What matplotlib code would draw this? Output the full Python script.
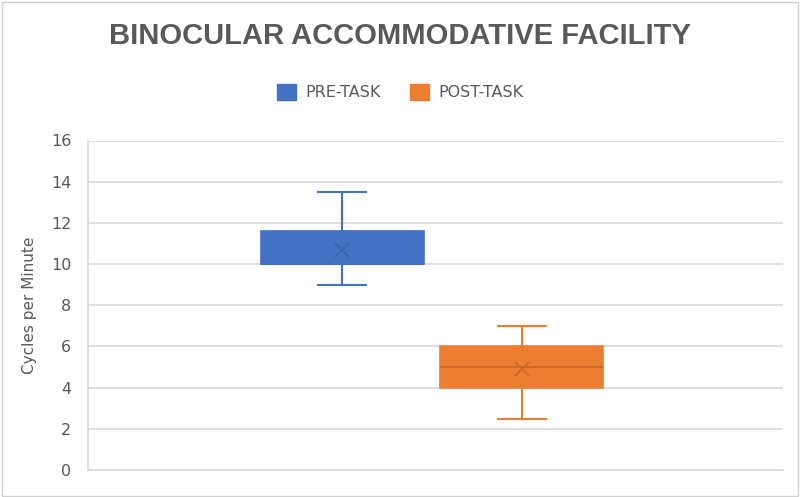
import matplotlib.pyplot as plt
from matplotlib.patches import Rectangle, Patch

# box statistics
groups = ['PRE-TASK', 'POST-TASK']
whisker_low = [9.0, 2.5]
q1 = [10.0, 4.0]
median = [10.0, 5.0]
q3 = [11.6, 6.0]
whisker_high = [13.5, 7.0]
mean = [10.7, 4.9]
colors = ['#4472C4', '#ED7D31']
yticks = [0, 2, 4, 6, 8, 10, 12, 14, 16]

W, H = 800, 497
fig = plt.figure(figsize=(8, 4.97), dpi=100)
fig.patches.append(Rectangle((0.003, 0.003), 0.994, 0.993, transform=fig.transFigure,
                             fill=False, edgecolor='#d0d0d0', linewidth=1))

ax = fig.add_axes([88 / W, 1 - 470 / H, (783 - 88) / W, (470 - 140.5) / H])

positions = [0.366, 0.624]
stats = []
for i, g in enumerate(groups):
    stats.append(dict(label=g, whislo=whisker_low[i], q1=q1[i], med=median[i],
                      q3=q3[i], whishi=whisker_high[i], mean=mean[i], fliers=[]))

for i, s in enumerate(stats):
    c = colors[i]
    dark = '#3a62ad' if i == 0 else '#c9692a'
    # blue median sits on the lower box edge, so it is not seen
    med_col = c if i == 0 else dark
    ax.bxp([s], positions=[positions[i]], widths=0.234, capwidths=0.069,
           patch_artist=True, showmeans=True, manage_ticks=False,
           boxprops=dict(facecolor=c, edgecolor=c, linewidth=1.2),
           medianprops=dict(color=med_col, linewidth=1.5),
           whiskerprops=dict(color=c, linewidth=1.5),
           capprops=dict(color=c, linewidth=1.5),
           meanprops=dict(marker='x', markeredgecolor=dark, markersize=10,
                          markeredgewidth=1.2))

ax.set_xlim(0, 1)
ax.set_ylim(0, 16)
ax.set_yticks(yticks)
ax.set_xticks([])
ax.yaxis.grid(True, color='#d9d9d9', linewidth=1.2)
ax.set_axisbelow(True)
for side in ['top', 'right']:
    ax.spines[side].set_visible(False)
for side in ['left', 'bottom']:
    ax.spines[side].set_color('#d9d9d9')
    ax.spines[side].set_linewidth(1.2)
ax.tick_params(axis='y', length=0, pad=12, labelsize=11.5, labelcolor='#595959')
ax.set_ylabel('Cycles per Minute', fontsize=11, color='#595959', labelpad=10)

fig.text(0.5, 1 - 36 / H, 'BINOCULAR ACCOMMODATIVE FACILITY', ha='center', va='center',
         fontsize=21, fontweight='bold', color='#595959', family='Liberation Sans')

handles = [Patch(facecolor=colors[i], edgecolor=colors[i]) for i in range(2)]
fig.legend(handles, groups, loc='center', bbox_to_anchor=(0.5, 1 - 92 / H), ncol=2,
           frameon=False, fontsize=11.5, labelcolor='#595959', handlelength=1.2,
           handleheight=1.2, columnspacing=1.8, handletextpad=0.6)

fig.savefig('out.png', dpi=100)
